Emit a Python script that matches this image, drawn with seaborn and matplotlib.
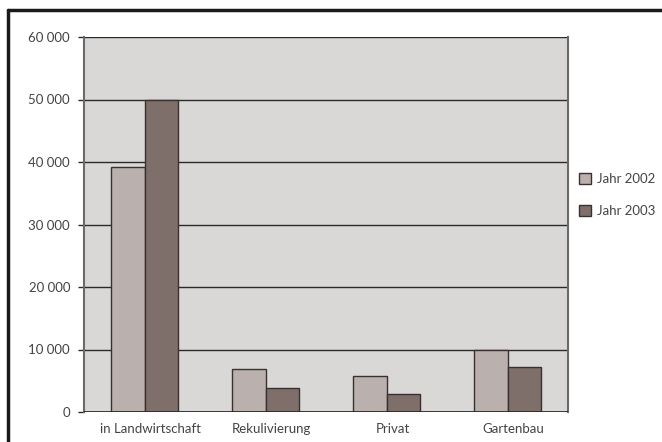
import matplotlib
matplotlib.use('Agg')
import matplotlib.pyplot as plt
import matplotlib.ticker as mticker
import matplotlib.transforms as mtrans
from matplotlib.lines import Line2D
import pandas as pd
import seaborn as sns

# data
categories = ['in Landwirtschaft', 'Rekulivierung', 'Privat', 'Gartenbau']
years      = ['Jahr 2002', 'Jahr 2003']
vals_2002  = [39200, 6900, 5750, 10000]
vals_2003  = [50000, 3850, 2850, 7150]
yticks     = [0, 10000, 20000, 30000, 40000, 50000, 60000]

df = pd.DataFrame({
    'Kategorie': categories * 2,
    'Jahr':      [years[0]] * 4 + [years[1]] * 4,
    'Wert':      vals_2002 + vals_2003,
})

txt_col = '#444444'

sns.set_theme(style='white')
plt.rcParams['font.family'] = ['Lato', 'DejaVu Sans']

fig = plt.figure(figsize=(6.62, 4.42), dpi=100)
ax = fig.add_axes([84/662, 1 - 412/442, 484/662, 375/442])
ax.set_facecolor('#d9d8d7')

sns.barplot(data=df, x='Kategorie', y='Wert', hue='Jahr',
            palette=['#bab0ad', '#7f6f6a'], width=0.56,
            edgecolor='#3a3030', linewidth=1.0, saturation=1,
            ax=ax, zorder=3)

ax.set_ylim(0, 60000)
ax.set_xlim(-0.5, 3.5)
ax.set_yticks(yticks)
ax.yaxis.set_major_formatter(mticker.FuncFormatter(
    lambda v, p: f'{int(v):,}'.replace(',', ' ')))
for y in yticks[1:]:
    ax.axhline(y, color='#2a2a2a', lw=1.0, zorder=1)
ax.axhline(0, color='#2a2a2a', lw=2.0, zorder=4)

for s in ['left', 'right']:
    ax.spines[s].set_color('#6a6a6a')
    ax.spines[s].set_linewidth(1.5)
ax.spines['top'].set_visible(False)
ax.spines['bottom'].set_visible(False)

ax.tick_params(axis='y', length=4, width=1, color='#2a2a2a', pad=6,
               labelsize=9.5, labelcolor=txt_col, left=True)
ax.tick_params(axis='x', length=0, pad=8, labelsize=9.5, labelcolor=txt_col)
ax.set_xlabel('')
ax.set_ylabel('')

# category labels sit a little right of the bar pairs in the original
shift = mtrans.ScaledTranslation(6/100, 0, fig.dpi_scale_trans)
for lab in ax.get_xticklabels():
    lab.set_transform(lab.get_transform() + shift)

leg = ax.legend(loc='center left', bbox_to_anchor=(0.998, 0.578), frameon=False,
                handlelength=0.9, handleheight=0.9, handletextpad=0.5,
                labelspacing=1.5, fontsize=9.5)
for t in leg.get_texts():
    t.set_color(txt_col)

# outer frame of the figure (cut on right/bottom)
fig.add_artist(Line2D([8/662, 1], [1 - 10/442] * 2, color='#1a1a1a', lw=2.5,
                      transform=fig.transFigure))
fig.add_artist(Line2D([8/662] * 2, [0, 1 - 10/442], color='#1a1a1a', lw=2.5,
                      transform=fig.transFigure))

plt.savefig('out.png', dpi=100)
plt.close()
